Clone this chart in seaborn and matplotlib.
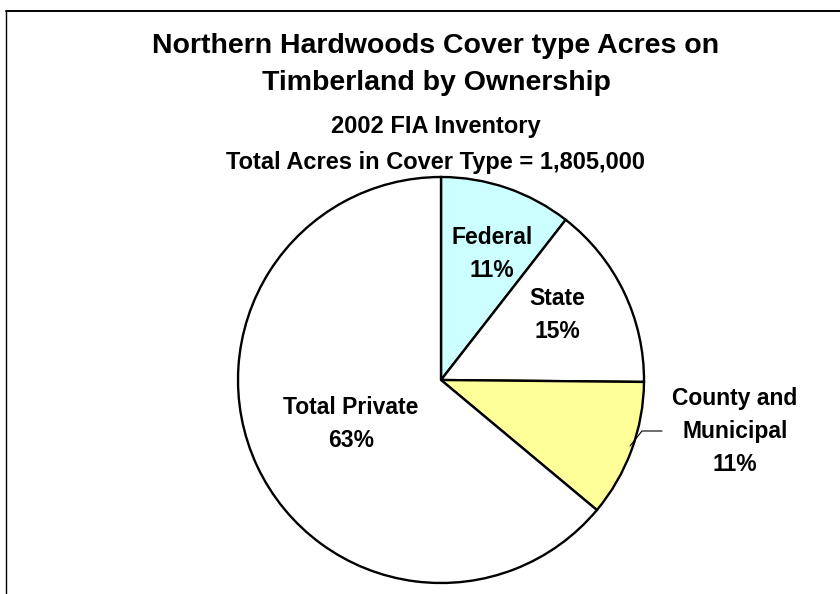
import matplotlib
matplotlib.use("Agg")
import matplotlib.pyplot as plt
import seaborn as sns
import numpy as np
from matplotlib.lines import Line2D

# acres by ownership (total 1,805,000)
owners = ["Federal", "State", "County and\nMunicipal", "Total Private"]
acres = [190000, 264000, 197000, 1154000]
pct_labels = ["11%", "15%", "11%", "63%"]
colors = ["#CCFFFF", "#FFFFFF", "#FFFF99", "#FFFFFF"]

sns.set_theme(style="white")
plt.rcParams['font.family'] = ['Liberation Sans', 'DejaVu Sans']
plt.rcParams['text.color'] = 'black'

W, H = 840, 594
fig = plt.figure(figsize=(8.4, 5.94), dpi=100)
fig.patch.set_facecolor("white")

cx, cy, R = 441, 380, 203
ax = fig.add_axes([(cx - R) / W, (H - cy - R) / H, 2 * R / W, 2 * R / H])

wedges, _ = ax.pie(acres, colors=colors, startangle=90, counterclock=False,
                   radius=1, wedgeprops=dict(edgecolor="black", linewidth=1.7))
ax.set_xlim(-1, 1)
ax.set_ylim(-1, 1)
ax.set_aspect("equal")
ax.axis("off")

# label positions (radius fraction, angle in degrees)
label_pos = [(0.67, 68), (0.655, 29.3), (1.471, -10), (0.493, 206)]
for name, pct, (r, a) in zip(owners, pct_labels, label_pos):
    x, y = r * np.cos(np.radians(a)), r * np.sin(np.radians(a))
    ax.text(x, y, f"{name}\n{pct}", ha="center", va="center", fontsize=16.5,
            fontweight="bold", linespacing=1.55, clip_on=False, color="black")

# leader line for County and Municipal
p0 = np.array([(630 - cx) / R, (cy - 446) / R])
p1 = np.array([(642 - cx) / R, (cy - 431) / R])
p2 = np.array([(662 - cx) / R, (cy - 431) / R])
ax.plot([p0[0], p1[0], p2[0]], [p0[1], p1[1], p2[1]], color="black", lw=0.8, clip_on=False)

fig.text(0.519, 1 - 46 / H, "Northern Hardwoods Cover type Acres on", ha="center", va="center",
         fontsize=20.5, fontweight="bold", color="black")
fig.text(0.519, 1 - 83 / H, "Timberland by Ownership", ha="center", va="center",
         fontsize=20.5, fontweight="bold", color="black")
fig.text(0.519, 1 - 127 / H, "2002 FIA Inventory", ha="center", va="center",
         fontsize=17, fontweight="bold", color="black")
fig.text(0.519, 1 - 162 / H, "Total Acres in Cover Type = 1,805,000", ha="center", va="center",
         fontsize=17, fontweight="bold", color="black")

# chart area frame (left and top edges visible)
fig.add_artist(Line2D([6 / W, 6 / W], [0, 1 - 11 / H], color="black", lw=1.0))
fig.add_artist(Line2D([6 / W, 1], [1 - 11 / H, 1 - 11 / H], color="black", lw=1.4))

fig.savefig("out.png", dpi=100, facecolor="white")
